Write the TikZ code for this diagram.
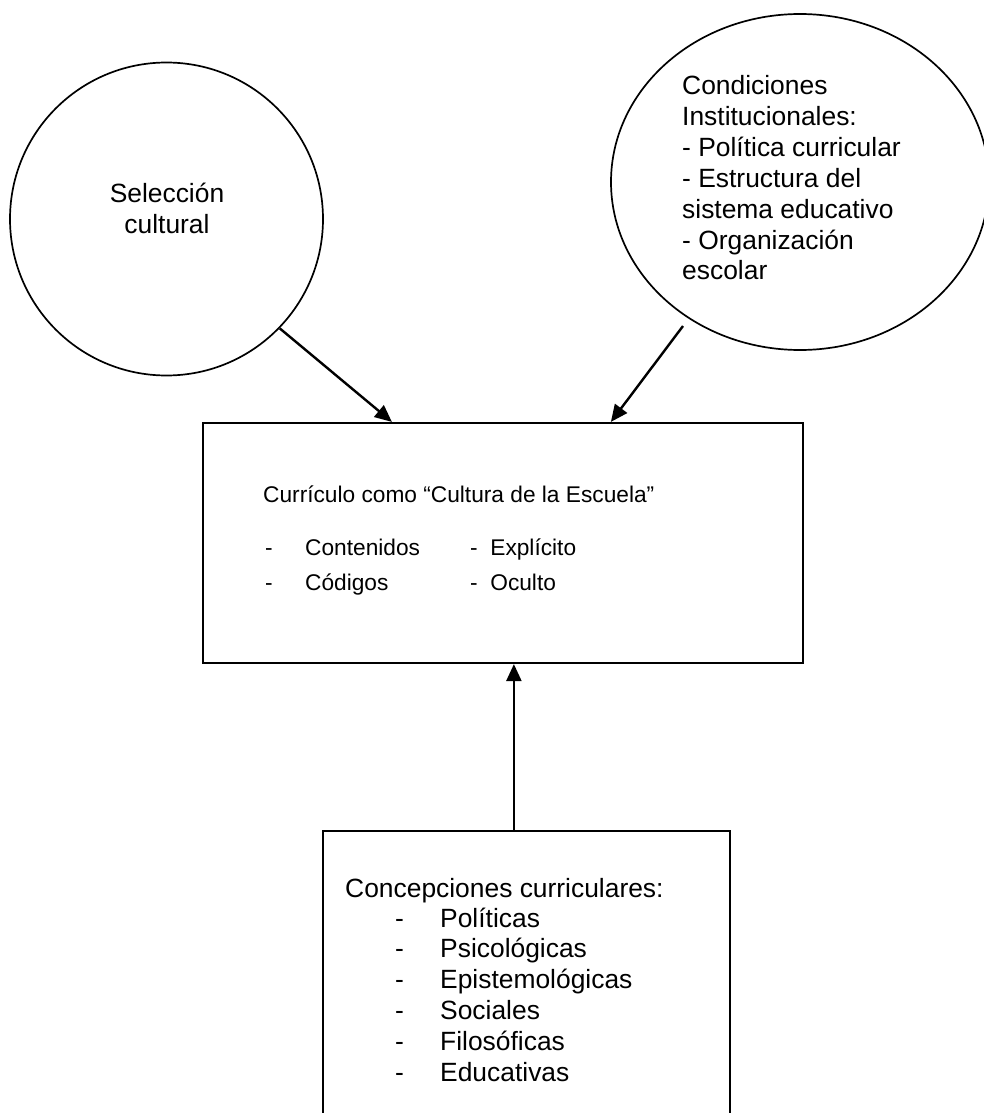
\documentclass[tikz,border=0pt]{standalone}
\usepackage{fontspec}
\setmainfont{Liberation Sans}
\usetikzlibrary{shapes.geometric,arrows.meta,calc}

\begin{document}
\begin{tikzpicture}[x=1pt,y=-1pt,
  frame/.style={draw=black,line width=2.2pt,inner sep=0pt},
  ring/.style={draw=black,line width=1.7pt,inner sep=0pt},
  arr/.style={line width=2.4pt,-{Triangle[length=17pt,width=15pt]}},
  big/.style={inner sep=0pt,font=\fontsize{26.4}{31}\selectfont},
  small/.style={inner sep=0pt,font=\fontsize{22.7}{27}\selectfont}]
\clip (0,0) rectangle (984,1113);
\fill[white] (0,0) rectangle (984,1113);

% shapes
\node[ring,circle,minimum size=313pt] (sel) at (166.5,219) {};
\node[ring,ellipse,minimum width=378pt,minimum height=336pt] (cond) at (800,182) {};
\node[frame,rectangle,minimum width=600pt,minimum height=240pt] (cur) at (503,543) {};
\node[frame,rectangle,minimum width=407pt,minimum height=320pt] (conc) at (526.5,991) {};

% left circle text
\node[big,anchor=base] (selA) at (167,202) {Selección};
\node[big,anchor=base] (selB) at (167,233) {cultural};

% right circle text
\foreach \t [count=\i from 0] in {Condiciones,Institucionales:,- Política curricular,- Estructura del,sistema educativo,- Organización,escolar}
  \node[big,anchor=base west] (cond\i) at (682,{95+30.8*\i}) {\t};

% central box text
\node[small,anchor=base west] (title) at (263,502) {Currículo como “Cultura de la Escuela”};
\node[small,anchor=base west] (dA) at (265,555) {-};
\node[small,anchor=base west] (wA) at (305,555) {Contenidos};
\node[small,anchor=base west] (dB) at (265,590) {-};
\node[small,anchor=base west] (wB) at (305,590) {Códigos};
\node[small,anchor=base west] (eA) at (470,555) {-\ \ Explícito};
\node[small,anchor=base west] (eB) at (470,590) {-\ \ Oculto};

% bottom box text
\node[big,anchor=base west] (concT) at (345,897) {Concepciones curriculares:};
\foreach \t [count=\i from 0] in {Políticas,Psicológicas,Epistemológicas,Sociales,Filosóficas,Educativas}{
  \node[big,anchor=base west] (cd\i) at (395,{927+30.8*\i}) {-};
  \node[big,anchor=base west] (cw\i) at (440,{927+30.8*\i}) {\t};
}

% connectors
\coordinate (cstart) at (683,326);
\draw[arr] (sel.-44.6) -- ($(cur.north west)+(190,0)$);
\draw[arr] (cstart) -- ($(cur.north west)+(409,0)$);
\draw[arr] ($(conc.north west)+(192,0)$) -- ($(cur.south west)+(312,0)$);
\end{tikzpicture}
\end{document}
